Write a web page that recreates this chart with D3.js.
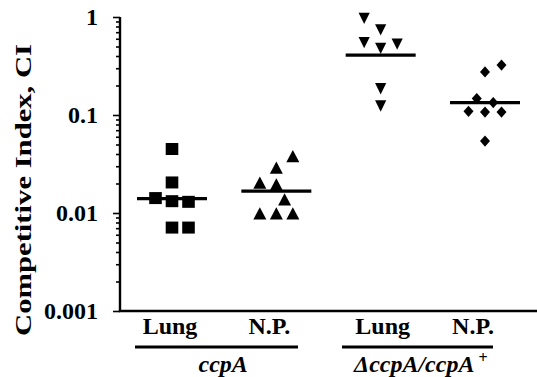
<!DOCTYPE html>
<html>
<head>
<meta charset="utf-8">
<script src="https://cdn.jsdelivr.net/npm/d3@7"></script>
<style>
  html, body { margin: 0; padding: 0; background: #fff; }
  svg { display: block; }
  text { font-family: "Liberation Serif", "Times New Roman", serif; font-weight: bold; fill: #000; }
</style>
</head>
<body>
<svg id="chart" width="537" height="377"></svg>
<script>
// ---- data ----
const groups = ["ccpA Lung", "ccpA N.P.", "dccpA Lung", "dccpA N.P."];
const tissueLabels = ["Lung", "N.P.", "Lung", "N.P."];
const strainLabels = ["ccpA", "ΔccpA/ccpA"];
const markerShapes = ["square", "triangleUp", "triangleDown", "diamond"];

const g1Values = [0.045, 0.0205, 0.0142, 0.0132, 0.013, 0.0071, 0.0071];
const g1Cols   = [0, 0, -1, 0, 1, 0, 1];
const g2Values = [0.038, 0.029, 0.0203, 0.0195, 0.0137, 0.0099, 0.0099, 0.0099];
const g2Cols   = [1, 0, -1, 0, 0.5, -1, 0, 1];
const g3Values = [0.97, 0.74, 0.55, 0.48, 0.53, 0.186, 0.124];
const g3Cols   = [-1, 0, -1, 0, 1, 0, 0];
const g4Values = [0.275, 0.323, 0.147, 0.134, 0.109, 0.107, 0.107, 0.0542];
const g4Cols   = [0, 1, -0.5, 0.5, -1, 0, 1, 0];
const medians  = [0.014, 0.0167, 0.408, 0.134];
const yTickValues = [0.001, 0.01, 0.1, 1];
const yTickLabels = ["0.001", "0.01", "0.1", "1"];

const seriesValues = [g1Values, g2Values, g3Values, g4Values];
const seriesCols = [g1Cols, g2Cols, g3Cols, g4Cols];

// ---- layout ----
const svg = d3.select("#chart");
const axisX = 120, axisTop = 17, axisBottom = 311, axisRight = 537;
const y = d3.scaleLog().domain([0.001, 1]).range([axisBottom, axisTop]);
const x = d3.scalePoint().domain(groups).range([172, 485]);
const colStep = 16.5;

// axes
const minorTicks = [];
[0.001, 0.01, 0.1].forEach(d => { for (let k = 2; k <= 9; k++) minorTicks.push(d * k); });

const axisG = svg.append("g").attr("transform", `translate(${axisX},0)`);
axisG.call(d3.axisLeft(y).tickValues(minorTicks).tickSize(4).tickFormat(""))
  .call(g => g.select(".domain").remove());
axisG.append("g").call(d3.axisLeft(y).tickValues(yTickValues).tickSize(7).tickFormat(""))
  .call(g => g.select(".domain").remove());
axisG.selectAll(".tick line").attr("stroke", "#000").attr("stroke-width", 1.6);

svg.append("line").attr("x1", axisX).attr("x2", axisX).attr("y1", axisTop).attr("y2", axisBottom)
  .attr("stroke", "#000").attr("stroke-width", 2.4);
svg.append("line").attr("x1", axisX - 1.2).attr("x2", axisRight).attr("y1", axisBottom).attr("y2", axisBottom)
  .attr("stroke", "#000").attr("stroke-width", 2.4);

// y tick labels
svg.selectAll("text.ytl").data(yTickValues).join("text")
  .attr("class", "ytl")
  .attr("x", 98).attr("y", d => y(d) + 8)
  .attr("text-anchor", "end")
  .attr("font-size", 24)
  .text((d, i) => yTickLabels[i]);

// y title
svg.append("text")
  .attr("transform", "translate(31,190) rotate(-90)")
  .attr("text-anchor", "middle")
  .attr("font-size", 23)
  .attr("textLength", 292).attr("lengthAdjust", "spacingAndGlyphs")
  .text("Competitive Index, CI");

// markers
function shapePath(shape) {
  switch (shape) {
    case "square": return "M-6.3,-6 L6.3,-6 L6.3,6 L-6.3,6 Z";
    case "triangleUp": return "M0,-6.3 L6.5,6 L-6.5,6 Z";
    case "triangleDown": return "M-5.6,-5.5 L5.6,-5.5 L0,5.8 Z";
    case "diamond": return "M0,-5.6 L5,0 L0,5.6 L-5,0 Z";
  }
}
const points = [];
seriesValues.forEach((vals, gi) => vals.forEach((v, j) => points.push({ g: groups[gi], shape: markerShapes[gi], v, c: seriesCols[gi][j] })));

svg.selectAll("path.pt").data(points).join("path")
  .attr("class", "pt")
  .attr("transform", d => `translate(${x(d.g) + d.c * colStep},${y(d.v)})`)
  .attr("d", d => shapePath(d.shape))
  .attr("fill", "#000");

// median bars
svg.selectAll("line.med").data(medians).join("line")
  .attr("class", "med")
  .attr("x1", (d, i) => x(groups[i]) - 35).attr("x2", (d, i) => x(groups[i]) + 35)
  .attr("y1", d => y(d)).attr("y2", d => y(d))
  .attr("stroke", "#000").attr("stroke-width", 3.2);

// tissue labels
const labelNudge = [-2, -7, 2, -12];
svg.selectAll("text.tl").data(tissueLabels).join("text")
  .attr("class", "tl")
  .attr("x", (d, i) => x(groups[i]) + labelNudge[i]).attr("y", 334)
  .attr("text-anchor", "middle").attr("font-size", 24)
  .text(d => d);

// underlines
const strainCenters = [(x(groups[0]) + x(groups[1])) / 2, (x(groups[2]) + x(groups[3])) / 2];
const underlineSpan = [[135, 298], [342, 493]];
svg.selectAll("line.ul").data(underlineSpan).join("line")
  .attr("class", "ul")
  .attr("x1", d => d[0]).attr("x2", d => d[1])
  .attr("y1", 347).attr("y2", 347)
  .attr("stroke", "#000").attr("stroke-width", 2.8);

// strain labels
svg.append("text").attr("x", strainCenters[0] - 1).attr("y", 372)
  .attr("text-anchor", "middle").attr("font-size", 24).attr("font-style", "italic")
  .text(strainLabels[0]);
const s2 = svg.append("text").attr("x", strainCenters[1] - 12).attr("y", 372)
  .attr("text-anchor", "middle").attr("font-size", 24).attr("font-style", "italic");
s2.append("tspan").text(strainLabels[1]);
s2.append("tspan").attr("dx", 4).attr("dy", -9).attr("font-size", 16).attr("font-style", "normal").text("+");
</script>
</body>
</html>
